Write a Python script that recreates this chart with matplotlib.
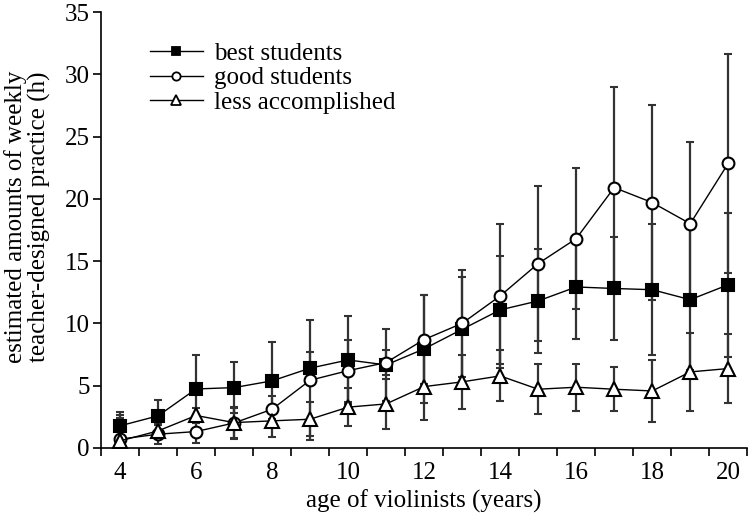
import matplotlib

matplotlib.use("Agg")
import matplotlib.pyplot as plt
from matplotlib.lines import Line2D
import numpy as np

# age of violinists (years)
ages = list(range(4, 21))

best = [1.77, 2.57, 4.73, 4.84, 5.38, 6.40, 7.06, 6.66, 7.95, 9.52,
        11.08, 11.80, 12.92, 12.80, 12.70, 11.90, 13.10]
best_err = [1.15, 1.30, 2.70, 2.05, 3.10, 1.30, 3.50, 2.90, 4.35, 4.20,
            4.35, 4.20, 4.20, 4.10, 5.25, 5.65, 5.80]

good = [0.70, 1.10, 1.31, 2.00, 3.10, 5.43, 6.20, 6.85, 8.70, 10.00,
        12.20, 14.80, 16.80, 20.90, 19.70, 18.00, 22.85]
good_err = [1.95, 0.80, 0.95, 1.30, 1.10, 4.80, 2.50, 1.00, 3.60, 4.30,
            5.80, 6.20, 5.65, 8.10, 7.80, 6.60, 8.80]

less = [0.56, 1.36, 2.60, 2.03, 2.17, 2.30, 3.27, 3.53, 4.92, 5.30,
        5.78, 4.71, 4.87, 4.71, 4.57, 6.10, 6.37]
less_err = [1.80, 0.50, 0.60, 1.20, 1.27, 1.35, 1.55, 2.00, 2.65, 2.15,
            2.05, 2.00, 1.90, 1.75, 2.50, 3.10, 2.80]

plt.rcParams["font.family"] = ["Liberation Serif", "DejaVu Serif"]
FS = 18

fig = plt.figure(figsize=(7.48, 5.22), dpi=100)
ax = fig.add_axes([0.135, 0.142, 0.864, 0.835])

series = [
    ("best students", best, best_err, dict(marker="s", mfc="black", ms=8)),
    ("good students", good, good_err, dict(marker="o", mfc="white", ms=8.5)),
    ("less accomplished", less, less_err, dict(marker="^", mfc="white", ms=9.5)),
]
handles = []
for label, vals, err, style in series:
    ax.errorbar(ages, vals, yerr=err, color="black", ecolor="#333333",
                elinewidth=1.6, capsize=3, capthick=1.6, lw=1.0,
                mec="black", mew=1.5, zorder=3, **style)
    small = dict(style, ms=style["ms"] * 0.7)
    handles.append(Line2D([], [], color="black", lw=1.0, mec="black",
                          mew=1.3, label=label, **small))

ax.set_xlim(3.5, 20.5)
ax.set_ylim(0, 35)
ax.set_yticks(np.arange(0, 36, 5))
ax.set_xticks(np.arange(4, 21, 2))
ax.set_xticks(np.arange(3.5, 20.6, 1), minor=True)
ax.tick_params(axis="x", which="major", length=0, labelsize=FS, pad=10)
ax.tick_params(axis="x", which="minor", length=6, width=1.2, direction="out")
ax.tick_params(axis="y", length=6, width=1.2, direction="out", labelsize=FS, pad=2)
for side in ("top", "right"):
    ax.spines[side].set_visible(False)
for side in ("left", "bottom"):
    ax.spines[side].set_linewidth(1.2)

ax.set_xlabel("age of violinists (years)", fontsize=FS, labelpad=4)
ax.set_ylabel("estimated amounts of weekly\nteacher-designed practice (h)",
              fontsize=FS, linespacing=1.0)
ax.yaxis.set_label_coords(-0.078, 0.53)

# legend: line-through-marker handles, no frame
ax.legend(handles=handles, loc="upper left", bbox_to_anchor=(0.076, 0.93),
          frameon=False, fontsize=FS, handlelength=2.1, handletextpad=0.45,
          labelspacing=0.07, borderpad=0, borderaxespad=0, numpoints=1)

fig.savefig("out.png", dpi=100)
